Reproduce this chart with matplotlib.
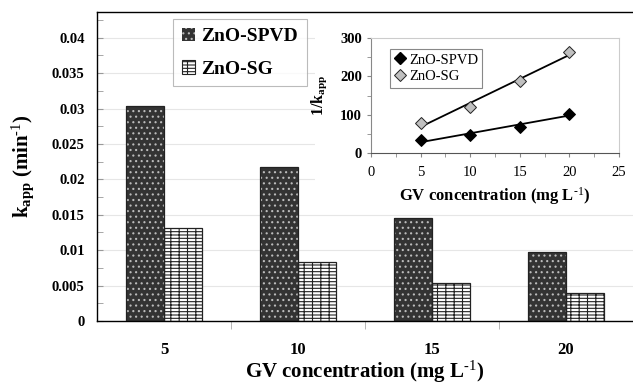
import numpy as np
import matplotlib
matplotlib.use("Agg")
import matplotlib.pyplot as plt
from matplotlib.patches import Patch, Rectangle
from matplotlib.lines import Line2D

plt.rcParams['font.family'] = ['Liberation Serif', 'DejaVu Serif']
plt.rcParams['mathtext.fontset'] = 'custom'
plt.rcParams['mathtext.rm'] = 'Liberation Serif'
plt.rcParams['mathtext.bf'] = 'Liberation Serif:bold'
plt.rcParams['mathtext.default'] = 'bf'
plt.rcParams['hatch.linewidth'] = 0.8

# ---- data ----
conc = ["5", "10", "15", "20"]
conc_val = [5, 10, 15, 20]
k_spvd = [0.0304, 0.0217, 0.0146, 0.0097]
k_sg = [0.0131, 0.0084, 0.0054, 0.0039]
inv_spvd = [33, 47, 69, 103]
inv_sg = [77, 120, 188, 263]

W, H = 633, 385
fig = plt.figure(figsize=(W / 100, H / 100), dpi=100)

# ---- main bar chart ----
ax = fig.add_axes([97 / W, 1 - 321 / H, (633 - 97) / W, (321 - 12.3) / H])
x = np.arange(len(conc))
bw = 0.287

# dotted dark bars: hatch drawn in light colour, outline drawn separately
ax.bar(x - bw / 2, k_spvd, bw, color='#333333', hatch='...', edgecolor='#bbbbbb',
       linewidth=0, zorder=2)
ax.bar(x - bw / 2, k_spvd, bw, color='none', edgecolor='#222222', linewidth=0.9, zorder=3)
# brick pattern bars
ax.bar(x + bw / 2, k_sg, bw, color='white', hatch='-----||', edgecolor='#222222',
       linewidth=0.9, zorder=2)

ax.set_xlim(-0.5, 3.5)
ax.set_ylim(0, 0.0436)
ax.set_yticks(np.arange(0, 0.0401, 0.005))
ax.set_yticklabels(["0", "0.005", "0.01", "0.015", "0.02", "0.025", "0.03", "0.035", "0.04"],
                   fontweight='bold', fontsize=10.5)
ax.set_yticks(np.arange(0, 0.0436, 0.0025), minor=True)
ax.tick_params(axis='y', which='both', direction='in', length=4, color='#999999', pad=9)
ax.set_xticks(x)
ax.set_xticklabels(conc, fontweight='bold', fontsize=12)
ax.set_xticks([0.5, 1.5, 2.5], minor=True)
ax.tick_params(axis='x', which='major', length=0, pad=15)
ax.tick_params(axis='x', which='minor', length=6, color='#aaaaaa', direction='out')
ax.grid(axis='y', which='major', color='#e6e6e6', linewidth=0.8, zorder=0)
ax.set_axisbelow(True)
ax.spines['right'].set_visible(False)
for s in ['left', 'top', 'bottom']:
    ax.spines[s].set_color('black')
    ax.spines[s].set_linewidth(1.0)

ax.set_xlabel(r"GV concentration (mg L$^{\text{-1}}$)", fontsize=15, fontweight='bold',
              labelpad=1)
fig.text(23 / W, 1 - 166 / H, r"k$_{app}$ (min$^{\text{-1}}$)", fontsize=15,
         fontweight='bold', rotation=90, ha='center', va='center')

handles = [Patch(facecolor='#333333', hatch='...', edgecolor='#bbbbbb', linewidth=0),
           Patch(facecolor='white', hatch='-----||', edgecolor='#222222', linewidth=0.8)]
leg = ax.legend(handles, ["ZnO-SPVD", "ZnO-SG"], loc='upper left',
                bbox_to_anchor=(173 / W, 1 - 19 / H), bbox_transform=fig.transFigure,
                borderaxespad=0, prop={'weight': 'bold', 'size': 14}, frameon=True,
                fancybox=False, edgecolor='#aaaaaa', handlelength=0.7, handleheight=0.7,
                handletextpad=0.3, labelspacing=0.75, borderpad=0.45)
leg.get_frame().set_linewidth(0.8)

# ---- inset: 1/k vs concentration ----
fig.patches.append(Rectangle((315 / W, 1 - 207 / H), (633 - 315) / W, (207 - 15) / H,
                             transform=fig.transFigure, facecolor='white',
                             edgecolor='none', zorder=4))
ins = fig.add_axes([371 / W, 1 - 153 / H, (619 - 371) / W, (153 - 38) / H], zorder=5)
for vals, fc in [(inv_spvd, 'black'), (inv_sg, '#c0c0c0')]:
    slope, icpt = np.polyfit(conc_val, vals, 1)
    ins.plot([5, 20], [slope * 5 + icpt, slope * 20 + icpt], color='black', linewidth=1.3,
             zorder=2)
    ins.plot(conc_val, vals, linestyle='none', marker='D', markersize=6.5,
             markerfacecolor=fc, markeredgecolor='#222222' if fc != 'black' else 'black',
             markeredgewidth=0.7, zorder=3)
ins.set_xlim(0, 25)
ins.set_ylim(0, 300)
ins.set_xticks([0, 5, 10, 15, 20, 25])
ins.set_xticklabels(["0", "5", "10", "15", "20", "25"], fontsize=10.5)
ins.set_xticks(np.arange(2.5, 25, 5), minor=True)
ins.set_yticks([0, 100, 200, 300])
ins.set_yticklabels(["0", "100", "200", "300"], fontweight='bold', fontsize=10.5)
ins.set_yticks([50, 150, 250], minor=True)
ins.tick_params(which='both', length=3, color='#888888', direction='out')
ins.tick_params(axis='x', pad=6)
ins.spines['left'].set_color('#888888')
ins.spines['bottom'].set_color('#555555')
ins.spines['top'].set_color('#cccccc')
ins.spines['right'].set_color('#cccccc')
ins.set_xlabel(r"GV concentration (mg L$^{\text{-1}}$)", fontsize=12, fontweight='bold',
               labelpad=5)
ins.set_ylabel("1/k$_{app}$", fontsize=11.5, fontweight='bold', labelpad=8)

ins_handles = [Line2D([], [], linestyle='none', marker='D', markersize=6.5,
                      markerfacecolor='black', markeredgecolor='black'),
               Line2D([], [], linestyle='none', marker='D', markersize=6.5,
                      markerfacecolor='#c0c0c0', markeredgecolor='#222222',
                      markeredgewidth=0.7)]
ileg = ins.legend(ins_handles, ["ZnO-SPVD", "ZnO-SG"], loc='upper left',
                  bbox_to_anchor=(390 / W, 1 - 49 / H), bbox_transform=fig.transFigure,
                  borderaxespad=0, prop={'size': 10.5}, fancybox=False, edgecolor='#888888',
                  handlelength=0.8, handletextpad=0.2, labelspacing=0.25, borderpad=0.3,
                  framealpha=1)
ileg.get_frame().set_linewidth(0.8)

fig.savefig("out.png", dpi=100)
